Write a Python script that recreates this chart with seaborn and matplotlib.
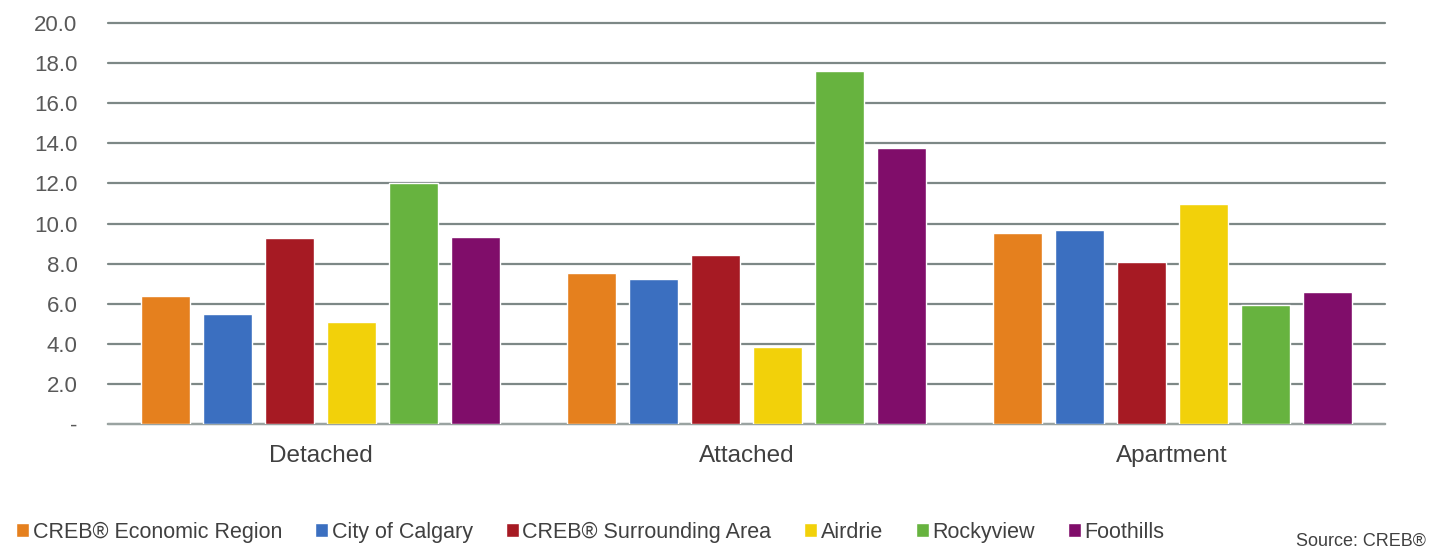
import matplotlib
matplotlib.use('Agg')
import matplotlib.pyplot as plt
import seaborn as sns
import pandas as pd

categories = ['Detached', 'Attached', 'Apartment']
regions = ['CREB® Economic Region', 'City of Calgary', 'CREB® Surrounding Area',
           'Airdrie', 'Rockyview', 'Foothills']
economic_region = [6.4, 7.55, 9.55]
city_of_calgary = [5.5, 7.25, 9.7]
surrounding_area = [9.3, 8.45, 8.1]
airdrie = [5.1, 3.85, 11.0]
rockyview = [12.0, 17.6, 5.95]
foothills = [9.35, 13.75, 6.6]
colors = ['#E5801E', '#3B6FC0', '#A61A23', '#F2D10A', '#67B33F', '#800D6A']

series = [economic_region, city_of_calgary, surrounding_area, airdrie, rockyview, foothills]
rows = []
for name, vals in zip(regions, series):
    for cat, v in zip(categories, vals):
        rows.append({'type': cat, 'region': name, 'value': v})
df = pd.DataFrame(rows)

sns.set_style('white')
plt.rcParams['font.family'] = ['Liberation Sans', 'DejaVu Sans']

fig = plt.figure(figsize=(14.43, 5.5), dpi=100)
ax = fig.add_axes([0.0748, 0.229, 0.885, 0.729])

sns.barplot(data=df, x='type', y='value', hue='region', hue_order=regions,
            palette=colors, width=0.874, gap=0.21, saturation=1, ax=ax,
            zorder=3, legend=True)

ax.set_ylim(0, 20)
ax.set_xlim(-0.5, 2.5)
ax.set_yticks(range(0, 21, 2))
ax.set_yticklabels(['-'] + ['%.1f' % v for v in range(2, 21, 2)])
ax.grid(axis='y', color='#7d8886', linewidth=1.6, zorder=0)
for gl in ax.get_ygridlines():
    gl.set_clip_on(False)
ax.set_axisbelow(True)
for s in ['left', 'right', 'top']:
    ax.spines[s].set_visible(False)
ax.spines['bottom'].set_color('#9aa3a1')
ax.spines['bottom'].set_linewidth(1.6)
ax.tick_params(axis='y', length=0, pad=22, labelsize=16, labelcolor='#595959')
ax.tick_params(axis='x', length=0, pad=15, labelsize=17.5, labelcolor='#404040')
ax.set_xlabel('')
ax.set_ylabel('')

handles, labels = ax.get_legend_handles_labels()
ax.get_legend().remove()
fig.legend(handles, labels, loc='lower left', bbox_to_anchor=(-0.002, -0.022), ncol=6,
           frameon=False, fontsize=15.5, handlelength=0.6, handleheight=0.6,
           handletextpad=0.15, columnspacing=1.55, labelcolor='#404040')

fig.text(0.988, 0.0, 'Source: CREB®', ha='right', va='bottom', fontsize=13, color='#404040')

fig.savefig('out.png', dpi=100)
